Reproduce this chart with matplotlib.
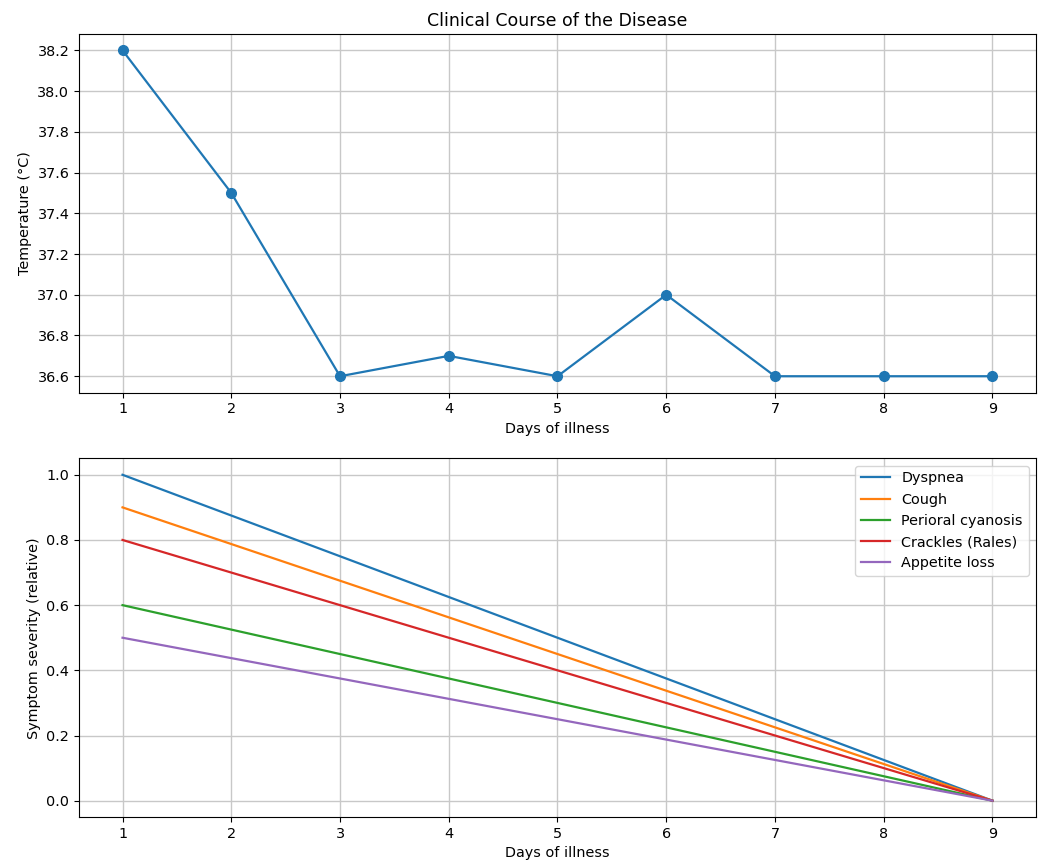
import matplotlib
matplotlib.use("Agg")
import matplotlib.pyplot as plt

days = [1, 2, 3, 4, 5, 6, 7, 8, 9]
temperature = [38.2, 37.5, 36.6, 36.7, 36.6, 37.0, 36.6, 36.6, 36.6]

dyspnea = [1.0, 0.875, 0.75, 0.625, 0.5, 0.375, 0.25, 0.125, 0.0]
cough = [0.9, 0.7875, 0.675, 0.5625, 0.45, 0.3375, 0.225, 0.1125, 0.0]
cyanosis = [0.6, 0.525, 0.45, 0.375, 0.3, 0.225, 0.15, 0.075, 0.0]
crackles = [0.8, 0.7, 0.6, 0.5, 0.4, 0.3, 0.2, 0.1, 0.0]
appetite = [0.5, 0.4375, 0.375, 0.3125, 0.25, 0.1875, 0.125, 0.0625, 0.0]

symptom_names = ["Dyspnea", "Cough", "Perioral cyanosis", "Crackles (Rales)", "Appetite loss"]
symptom_values = [dyspnea, cough, cyanosis, crackles, appetite]

plt.rcParams['font.size'] = 10.4
fig, (ax1, ax2) = plt.subplots(2, 1, figsize=(10.44, 8.66), dpi=100)

ax1.plot(days, temperature, marker='o', color='#1f77b4', linewidth=1.6, markersize=7)
ax1.set_title("Clinical Course of the Disease", fontsize=12.5)
ax1.set_ylabel("Temperature (°C)")
ax1.set_xlabel("Days of illness")
ax1.set_xticks(days)
ax1.grid(True, color='#c8c8c8', linewidth=1.0)

for name, vals in zip(symptom_names, symptom_values):
    ax2.plot(days, vals, label=name, linewidth=1.6)
ax2.set_ylabel("Symptom severity (relative)")
ax2.set_xlabel("Days of illness")
ax2.set_xticks(days)
ax2.grid(True, color='#c8c8c8', linewidth=1.0)
ax2.legend(loc='upper right')

fig.subplots_adjust(left=0.0757, right=0.9923, top=0.9607, bottom=0.0566, hspace=0.184)
fig.savefig("out.png")
